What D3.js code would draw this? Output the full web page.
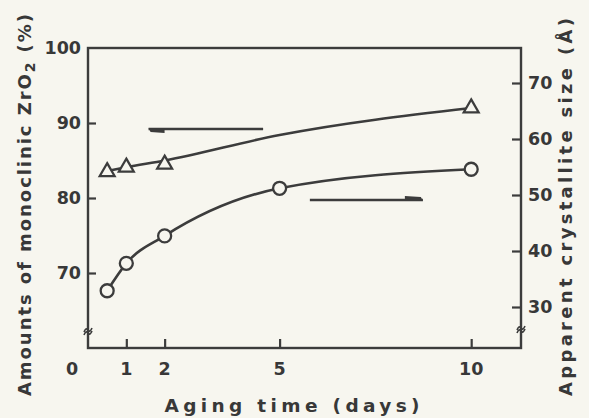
<!DOCTYPE html>
<html>
<head>
<meta charset="utf-8">
<script src="https://cdn.jsdelivr.net/npm/d3@7"></script>
<style>
  html, body { margin: 0; padding: 0; background: #f7f6ef; }
  svg { display: block; }
  text { font-family: "DejaVu Sans", Verdana, sans-serif; font-weight: bold; fill: #383838; }
</style>
</head>
<body>
<svg id="chart" width="589" height="418"></svg>
<script>
// Aging time (days) at which each sample was measured
const days = [0.5, 1, 2, 5, 10];
// Monoclinic ZrO2 content (%), left axis (triangles)
const monoDays = [0.5, 1, 2, 10];
const monoclinic = [83.5, 84.1, 84.5, 92.0];
// Smoothed trend drawn through the monoclinic points
const monoFitDays = [0.5, 1, 2, 5, 10];
const monoFit = [83.6, 84.1, 85.0, 88.4, 92.0];
// Apparent crystallite size (Å), right axis (circles)
const crystalSize = [32.9, 37.8, 42.7, 51.2, 54.6];

// Tick values
const xTicks = [1, 2, 5, 10];
const leftTicks = [70, 80, 90];
const rightTicks = [30, 40, 50, 60, 70];

// Arrows telling which axis each curve belongs to
const leftArrow = { x0: 1.58, x1: 4.57, value: 89.2 };
const rightArrow = { x0: 5.79, x1: 8.74, value: 49.1 };

const ink = "#3c3c3c";
const paper = "#f7f6ef";
const svg = d3.select("#chart");

const x = d3.scaleLinear().domain([0, 11.3]).range([88, 521]);
const yL = d3.scaleLinear().domain([60, 100]).range([348, 48]);
const yR = d3.scaleLinear().domain([22.68, 76.25]).range([348, 48]);

// Frame
svg.append("rect")
  .attr("x", x(0)).attr("y", yL(100))
  .attr("width", x(11.3) - x(0)).attr("height", yL(60) - yL(100))
  .attr("fill", "none").attr("stroke", ink).attr("stroke-width", 2.4);

// Axes with inward ticks
const bottomAxis = d3.axisTop(x).tickValues(xTicks).tickSize(9).tickFormat("");
svg.append("g").attr("transform", `translate(0,${yL(60)})`).call(bottomAxis);
const leftAxis = d3.axisRight(yL).tickValues(leftTicks).tickSize(8).tickFormat("");
svg.append("g").attr("transform", `translate(${x(0)},0)`).call(leftAxis);
const rightAxis = d3.axisLeft(yR).tickValues(rightTicks).tickSize(9).tickFormat("");
svg.append("g").attr("transform", `translate(${x(11.3)},0)`).call(rightAxis);
svg.selectAll(".domain").remove();
svg.selectAll(".tick line").attr("stroke", ink).attr("stroke-width", 2.2);

// Tick labels
svg.append("g").selectAll("text").data([0].concat(xTicks)).join("text")
  .attr("x", d => d === 0 ? x(0) - 16 : x(d))
  .attr("y", 375).attr("text-anchor", "middle").attr("font-size", 17.5)
  .text(d => d);
svg.append("g").selectAll("text").data(leftTicks.concat([100])).join("text")
  .attr("x", 81).attr("y", d => yL(d) + 6).attr("text-anchor", "end").attr("font-size", 17.5)
  .text(d => d);
svg.append("g").selectAll("text").data(rightTicks).join("text")
  .attr("x", 528).attr("y", d => yR(d) + 6).attr("text-anchor", "start").attr("font-size", 17.5)
  .text(d => d);

// Axis break marks
function breakMark(cx, cy) {
  svg.append("path")
    .attr("d", `M${cx - 4},${cy + 2} q2,-5 4,-2 q2,3 4,-2 M${cx - 4},${cy + 5} q2,-5 4,-2 q2,3 4,-2`)
    .attr("fill", "none").attr("stroke", ink).attr("stroke-width", 1.6);
}
breakMark(x(0), 330);
breakMark(x(11.3), 328);

// Axis titles
const leftTitle = svg.append("text")
  .attr("transform", "translate(31,205) rotate(-90)")
  .attr("text-anchor", "middle").attr("font-size", 18)
  .attr("textLength", 382).attr("lengthAdjust", "spacing");
leftTitle.append("tspan").text("Amounts of monoclinic ZrO");
leftTitle.append("tspan").attr("dy", 4).attr("font-size", 14).text("2");
leftTitle.append("tspan").attr("dy", -4).text(" (%)");

svg.append("text")
  .attr("transform", "translate(572,207) rotate(-90)")
  .attr("text-anchor", "middle").attr("font-size", 18)
  .attr("textLength", 378).attr("lengthAdjust", "spacing")
  .text("Apparent crystallite size (\u00c5)");
svg.append("text")
  .attr("x", 292).attr("y", 412)
  .attr("text-anchor", "middle").attr("font-size", 18.5)
  .attr("textLength", 255).attr("lengthAdjust", "spacing")
  .text("Aging time (days)");

// Curves
const monoLine = d3.line().x((d, i) => x(monoFitDays[i])).y(d => yL(d)).curve(d3.curveMonotoneX);
svg.append("path").datum(monoFit).attr("d", monoLine)
  .attr("fill", "none").attr("stroke", ink).attr("stroke-width", 2.6);

const sizeLine = d3.line().x((d, i) => x(days[i])).y(d => yR(d)).curve(d3.curveMonotoneX);
svg.append("path").datum(crystalSize).attr("d", sizeLine)
  .attr("fill", "none").attr("stroke", ink).attr("stroke-width", 2.6);

// Markers
const tri = d3.symbol().type(d3.symbolTriangle).size(95);
svg.append("g").selectAll("path").data(monoclinic).join("path")
  .attr("d", tri)
  .attr("transform", (d, i) => `translate(${x(monoDays[i])},${yL(d)})`)
  .attr("fill", paper).attr("stroke", ink).attr("stroke-width", 2.3);

svg.append("g").selectAll("circle").data(crystalSize).join("circle")
  .attr("cx", (d, i) => x(days[i])).attr("cy", d => yR(d)).attr("r", 6.5)
  .attr("fill", paper).attr("stroke", ink).attr("stroke-width", 2.3);

// Pointer arrows (half-barbed)
function arrow(a, scale, dir) {
  const xa = x(a.x0), xb = x(a.x1), yy = scale(a.value);
  svg.append("line").attr("x1", xa).attr("x2", xb).attr("y1", yy).attr("y2", yy)
    .attr("stroke", ink).attr("stroke-width", 2.6);
  if (dir < 0) {
    svg.append("path").attr("d", `M${xa},${yy - 1} L${xa + 16},${yy + 1} L${xa + 16},${yy + 4} L${xa + 2},${yy + 3} Z`)
      .attr("fill", ink);
  } else {
    svg.append("path").attr("d", `M${xb},${yy + 1} L${xb - 18},${yy - 1} L${xb - 18},${yy - 4} L${xb - 2},${yy - 3} Z`)
      .attr("fill", ink);
  }
}
arrow(leftArrow, yL, -1);
arrow(rightArrow, yR, 1);
</script>
</body>
</html>
